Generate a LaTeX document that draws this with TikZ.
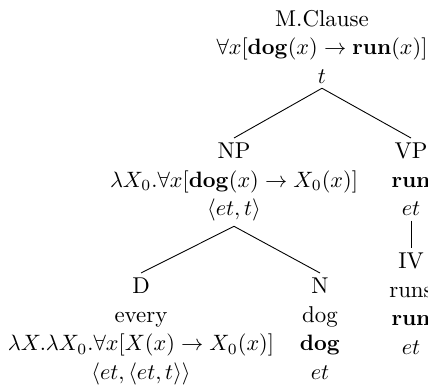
\documentclass[tikz,border=0pt]{standalone}
\usepackage{amsmath,amssymb}
\usetikzlibrary{positioning}

\newcommand{\mdog}{\mathbf{dog}}
\newcommand{\mrun}{\mathbf{run}}

\tikzset{
  cat/.style={align=center, anchor=north, inner sep=2pt,
    font=\fontsize{10.3}{12.9}\selectfont},
}

\begin{document}
\begin{tikzpicture}[x=0.45pt, y=-0.45pt]
\useasboundingbox (0,0) rectangle (428,391);

% --- radice ---
\node[cat] (root) at (322,5) {M.Clause\\$\forall x[\mdog(x)\rightarrow\mrun(x)]$\\$t$};

% --- NP e VP ---
\node[cat] (np) at (234,138) {NP\\$\lambda X_0.\forall x[\mdog(x)\rightarrow X_0(x)]$\\$\langle et,t\rangle$};
\node[cat] (vp) at (411,138) {VP\\$\mrun$\\$et$};
\node[cat] (iv) at (411,248) {IV\\runs\\$\mrun$\\$et$};

% --- D e N ---
\node[cat] (d) at (141,273) {D\\every\\$\lambda X.\lambda X_0.\forall x[X(x)\rightarrow X_0(x)]$\\$\langle et,\langle et,t\rangle\rangle$};
\node[cat] (n) at (320,273) {N\\dog\\$\mdog$\\$et$};

% rami
\draw (root.south) -- (np.north);
\draw (root.south) -- (vp.north);
\draw (np.south) -- (d.north);
\draw (np.south) -- (n.north);
\draw (vp.south) -- (iv.north);

\end{tikzpicture}
\end{document}
